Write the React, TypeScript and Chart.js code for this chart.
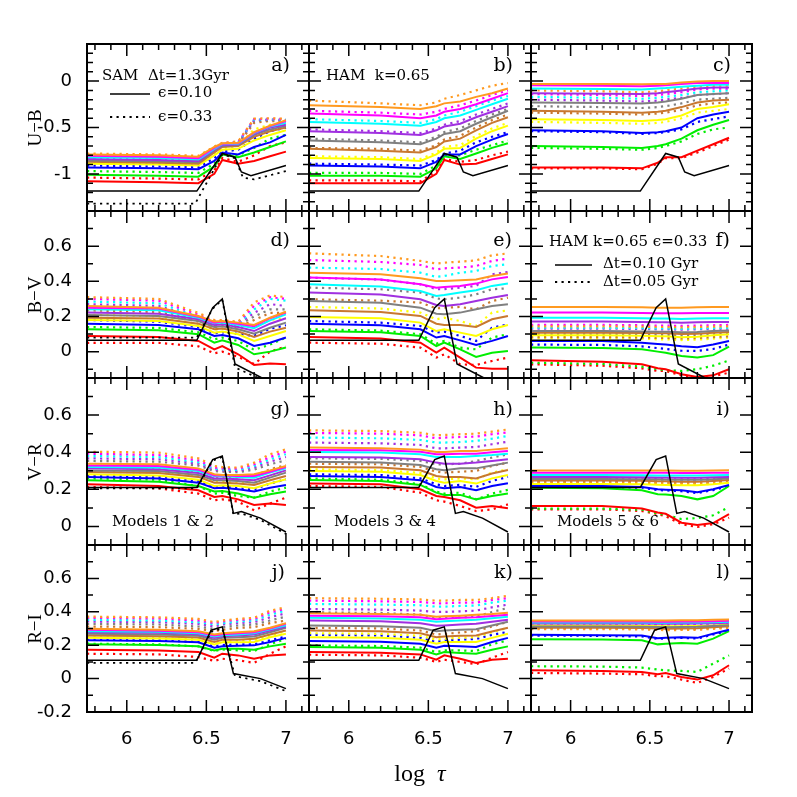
import React, { useEffect, useRef } from "react";
import { Chart, registerables } from "chart.js";

Chart.register(...registerables);

// ---------------- data ----------------
const XS = [5.75, 6.2, 6.45, 6.55, 6.6, 6.7, 6.8, 6.9, 7.0];
// colour order: red, green, blue, yellow, brown, gray, purple, cyan, magenta, orange
const COLORS = ["#ff0000", "#00ee00", "#0000ff", "#ffff00", "#c87830", "#808080", "#a030e0", "#00ffff", "#ff00ff", "#ff9a20"];

const X_TICKS = [6, 6.5, 7];
const UB_TICKS = [-1, -0.5, 0];
const BV_TICKS = [0, 0.2, 0.4, 0.6];
const VR_TICKS = [0, 0.2, 0.4, 0.6];
const RI_TICKS = [-0.2, 0, 0.2, 0.4, 0.6];

// black reference curves (one per row)
const BLACK_UB_X = [5.75, 6.44, 6.6, 6.68, 6.72, 6.78, 7.0];
const BLACK_UB = [-1.185, -1.185, -0.78, -0.82, -0.98, -1.02, -0.91];
const A_BLACK_DOT_X = [5.75, 6.43, 6.6, 6.68, 6.73, 6.8, 7.0];
const A_BLACK_DOT = [-1.32, -1.32, -0.79, -0.83, -1.04, -1.06, -0.97];

const BLACK_BV_X = [5.75, 6.44, 6.54, 6.6, 6.68, 6.85, 7.0];
const BLACK_BV = [0.065, 0.065, 0.25, 0.3, -0.07, -0.15, -0.19];
const D_BLACK_DOT = [0.08, 0.08, 0.245, 0.295, -0.09, -0.16, -0.2];

const BLACK_VR_X = [5.75, 6.44, 6.54, 6.6, 6.67, 6.72, 6.84, 7.0];
const BLACK_VR = [0.21, 0.21, 0.36, 0.38, 0.07, 0.08, 0.045, -0.03];
const G_BLACK_DOT = [0.205, 0.205, 0.355, 0.375, 0.065, 0.07, 0.035, -0.04];

const BLACK_RI_X = [5.75, 6.44, 6.53, 6.6, 6.67, 6.84, 7.0];
const BLACK_RI = [0.11, 0.11, 0.29, 0.31, 0.03, 0.0, -0.06];
const J_BLACK_DOT_X = [5.75, 6.43, 6.53, 6.6, 6.68, 6.84, 7.0];
const J_BLACK_DOT = [0.094, 0.094, 0.28, 0.3, 0.015, -0.015, -0.075];

// panel a  (U-B, SAM)
const A_SOLID = [
  [-1.08, -1.09, -1.1, -1.0, -0.85, -0.89, -0.86, -0.81, -0.76],
  [-1.01, -1.02, -1.03, -0.92, -0.79, -0.82, -0.77, -0.71, -0.65],
  [-0.93, -0.94, -0.95, -0.86, -0.77, -0.79, -0.71, -0.66, -0.58],
  [-0.89, -0.9, -0.91, -0.8, -0.74, -0.73, -0.64, -0.58, -0.53],
  [-0.87, -0.88, -0.89, -0.77, -0.71, -0.7, -0.6, -0.54, -0.5],
  [-0.855, -0.865, -0.875, -0.75, -0.7, -0.69, -0.58, -0.52, -0.485],
  [-0.84, -0.85, -0.86, -0.74, -0.69, -0.68, -0.57, -0.5, -0.47],
  [-0.82, -0.83, -0.845, -0.73, -0.68, -0.675, -0.56, -0.49, -0.45],
  [-0.805, -0.815, -0.83, -0.72, -0.675, -0.67, -0.555, -0.485, -0.43],
  [-0.79, -0.8, -0.815, -0.71, -0.67, -0.665, -0.55, -0.48, -0.42],
];
const A_DOTTED = [
  [-1.04, -1.05, -1.06, -0.96, -0.83, -0.87, -0.8, -0.7, -0.66],
  [-0.97, -0.98, -0.99, -0.89, -0.78, -0.8, -0.72, -0.62, -0.58],
  [-0.91, -0.92, -0.93, -0.83, -0.76, -0.74, -0.62, -0.54, -0.5],
  [-0.88, -0.89, -0.9, -0.78, -0.72, -0.7, -0.52, -0.47, -0.46],
  [-0.86, -0.87, -0.88, -0.76, -0.7, -0.68, -0.45, -0.43, -0.44],
  [-0.845, -0.855, -0.865, -0.745, -0.69, -0.67, -0.43, -0.42, -0.43],
  [-0.83, -0.84, -0.85, -0.735, -0.68, -0.665, -0.42, -0.415, -0.42],
  [-0.81, -0.82, -0.835, -0.725, -0.675, -0.66, -0.415, -0.41, -0.415],
  [-0.795, -0.805, -0.82, -0.715, -0.67, -0.655, -0.41, -0.405, -0.41],
  [-0.78, -0.79, -0.805, -0.705, -0.665, -0.65, -0.405, -0.4, -0.405],
];
// panel b (U-B, HAM)
const B_SOLID = [
  [-1.1, -1.1, -1.1, -1.0, -0.85, -0.9, -0.89, -0.84, -0.79],
  [-1.02, -1.02, -1.03, -0.94, -0.81, -0.84, -0.78, -0.72, -0.67],
  [-0.91, -0.92, -0.94, -0.87, -0.79, -0.79, -0.7, -0.63, -0.57],
  [-0.83, -0.84, -0.86, -0.79, -0.73, -0.72, -0.62, -0.54, -0.48],
  [-0.73, -0.75, -0.77, -0.71, -0.65, -0.62, -0.53, -0.45, -0.39],
  [-0.64, -0.66, -0.68, -0.62, -0.57, -0.54, -0.46, -0.39, -0.32],
  [-0.54, -0.56, -0.58, -0.53, -0.49, -0.46, -0.39, -0.33, -0.27],
  [-0.44, -0.46, -0.48, -0.44, -0.4, -0.37, -0.31, -0.25, -0.19],
  [-0.35, -0.37, -0.4, -0.37, -0.33, -0.3, -0.25, -0.19, -0.13],
  [-0.26, -0.28, -0.3, -0.27, -0.24, -0.22, -0.17, -0.13, -0.08],
];
const B_DOTTED = [
  [-1.07, -1.07, -1.08, -0.97, -0.84, -0.87, -0.85, -0.8, -0.76],
  [-0.99, -0.99, -1.0, -0.91, -0.8, -0.8, -0.74, -0.69, -0.64],
  [-0.89, -0.9, -0.91, -0.85, -0.78, -0.75, -0.66, -0.6, -0.55],
  [-0.81, -0.82, -0.84, -0.77, -0.71, -0.69, -0.59, -0.51, -0.45],
  [-0.72, -0.73, -0.75, -0.69, -0.63, -0.59, -0.5, -0.42, -0.36],
  [-0.62, -0.64, -0.66, -0.6, -0.55, -0.51, -0.43, -0.36, -0.3],
  [-0.52, -0.54, -0.56, -0.51, -0.47, -0.43, -0.36, -0.3, -0.24],
  [-0.41, -0.43, -0.45, -0.41, -0.37, -0.33, -0.27, -0.21, -0.16],
  [-0.32, -0.34, -0.36, -0.33, -0.3, -0.26, -0.21, -0.15, -0.1],
  [-0.21, -0.24, -0.26, -0.23, -0.19, -0.15, -0.1, -0.05, -0.02],
];
// panel c (U-B)
const C_SOLID = [
  [-0.93, -0.93, -0.94, -0.88, -0.82, -0.82, -0.75, -0.68, -0.61],
  [-0.7, -0.71, -0.72, -0.7, -0.68, -0.62, -0.53, -0.47, -0.42],
  [-0.53, -0.54, -0.56, -0.55, -0.54, -0.5, -0.4, -0.36, -0.33],
  [-0.41, -0.42, -0.43, -0.42, -0.41, -0.37, -0.3, -0.28, -0.25],
  [-0.32, -0.33, -0.34, -0.33, -0.32, -0.28, -0.23, -0.21, -0.2],
  [-0.23, -0.235, -0.24, -0.23, -0.22, -0.19, -0.15, -0.14, -0.13],
  [-0.13, -0.135, -0.14, -0.13, -0.12, -0.1, -0.08, -0.07, -0.07],
  [-0.08, -0.085, -0.09, -0.08, -0.075, -0.06, -0.05, -0.04, -0.04],
  [-0.045, -0.05, -0.055, -0.05, -0.045, -0.03, -0.02, -0.02, -0.02],
  [-0.03, -0.03, -0.035, -0.03, -0.03, -0.015, -0.005, 0.0, 0.0],
];
const C_DOTTED = [
  [-0.94, -0.94, -0.95, -0.89, -0.83, -0.83, -0.77, -0.7, -0.63],
  [-0.72, -0.73, -0.74, -0.72, -0.7, -0.65, -0.57, -0.52, -0.5],
  [-0.54, -0.55, -0.57, -0.56, -0.55, -0.52, -0.44, -0.41, -0.38],
  [-0.44, -0.45, -0.46, -0.45, -0.44, -0.4, -0.34, -0.32, -0.3],
  [-0.34, -0.35, -0.36, -0.35, -0.34, -0.31, -0.26, -0.24, -0.23],
  [-0.27, -0.28, -0.29, -0.28, -0.27, -0.24, -0.2, -0.19, -0.18],
  [-0.2, -0.21, -0.22, -0.21, -0.2, -0.18, -0.15, -0.14, -0.13],
  [-0.17, -0.18, -0.19, -0.18, -0.17, -0.15, -0.12, -0.11, -0.1],
  [-0.14, -0.15, -0.16, -0.15, -0.14, -0.12, -0.09, -0.08, -0.08],
  [-0.1, -0.11, -0.12, -0.11, -0.1, -0.08, -0.06, -0.05, -0.05],
];
// panel d (B-V)
const D_SOLID = [
  [0.089, 0.083, 0.061, 0.013, 0.032, -0.015, -0.076, -0.068, -0.072],
  [0.127, 0.121, 0.099, 0.051, 0.064, 0.038, -0.015, 0.0, 0.023],
  [0.159, 0.152, 0.127, 0.089, 0.095, 0.076, 0.032, 0.051, 0.08],
  [0.18, 0.174, 0.146, 0.108, 0.114, 0.099, 0.061, 0.089, 0.117],
  [0.193, 0.188, 0.159, 0.127, 0.131, 0.114, 0.083, 0.114, 0.136],
  [0.208, 0.203, 0.174, 0.14, 0.144, 0.127, 0.102, 0.136, 0.165],
  [0.222, 0.216, 0.184, 0.152, 0.155, 0.14, 0.117, 0.159, 0.19],
  [0.241, 0.235, 0.193, 0.161, 0.165, 0.152, 0.133, 0.178, 0.212],
  [0.25, 0.245, 0.199, 0.165, 0.171, 0.159, 0.144, 0.19, 0.222],
  [0.26, 0.25, 0.203, 0.171, 0.174, 0.165, 0.152, 0.193, 0.227],
];
const D_DOTTED = [
  [0.05, 0.05, 0.03, -0.01, 0.0, -0.03, -0.07, 0.0, 0.03],
  [0.14, 0.135, 0.11, 0.07, 0.08, 0.06, 0.01, 0.04, 0.08],
  [0.18, 0.17, 0.14, 0.105, 0.11, 0.1, 0.09, 0.13, 0.15],
  [0.21, 0.2, 0.155, 0.125, 0.13, 0.125, 0.15, 0.18, 0.19],
  [0.235, 0.225, 0.17, 0.14, 0.145, 0.14, 0.18, 0.22, 0.22],
  [0.25, 0.24, 0.18, 0.15, 0.155, 0.15, 0.2, 0.24, 0.24],
  [0.27, 0.26, 0.19, 0.16, 0.165, 0.155, 0.22, 0.27, 0.26],
  [0.285, 0.275, 0.2, 0.17, 0.17, 0.16, 0.24, 0.3, 0.29],
  [0.3, 0.29, 0.21, 0.175, 0.175, 0.165, 0.26, 0.31, 0.3],
  [0.31, 0.3, 0.22, 0.18, 0.18, 0.17, 0.28, 0.32, 0.31],
];
// panel e (B-V)
const E_SOLID = [
  [0.083, 0.075, 0.051, -0.006, 0.023, -0.034, -0.091, -0.097, -0.097],
  [0.117, 0.11, 0.089, 0.032, 0.051, 0.013, -0.03, -0.006, 0.004],
  [0.159, 0.15, 0.127, 0.08, 0.089, 0.064, 0.038, 0.061, 0.089],
  [0.197, 0.19, 0.165, 0.117, 0.127, 0.108, 0.089, 0.127, 0.152],
  [0.235, 0.225, 0.203, 0.159, 0.152, 0.152, 0.14, 0.184, 0.203],
  [0.288, 0.278, 0.25, 0.216, 0.212, 0.222, 0.241, 0.26, 0.269],
  [0.336, 0.325, 0.298, 0.265, 0.26, 0.269, 0.288, 0.307, 0.322],
  [0.383, 0.37, 0.345, 0.317, 0.322, 0.336, 0.349, 0.374, 0.387],
  [0.421, 0.41, 0.383, 0.364, 0.368, 0.374, 0.387, 0.411, 0.425],
  [0.449, 0.44, 0.417, 0.402, 0.402, 0.406, 0.411, 0.43, 0.444],
];
const E_DOTTED = [
  [0.051, 0.045, 0.023, -0.034, -0.015, -0.072, -0.076, -0.053, -0.034],
  [0.127, 0.12, 0.099, 0.045, 0.061, 0.023, 0.013, 0.08, 0.099],
  [0.174, 0.165, 0.146, 0.108, 0.114, 0.089, 0.061, 0.136, 0.155],
  [0.254, 0.245, 0.222, 0.184, 0.193, 0.174, 0.146, 0.222, 0.235],
  [0.298, 0.29, 0.279, 0.246, 0.25, 0.254, 0.241, 0.288, 0.307],
  [0.364, 0.355, 0.336, 0.303, 0.298, 0.307, 0.326, 0.355, 0.36],
  [0.421, 0.41, 0.383, 0.355, 0.355, 0.364, 0.374, 0.44, 0.453],
  [0.478, 0.47, 0.449, 0.425, 0.43, 0.449, 0.459, 0.487, 0.497],
  [0.521, 0.51, 0.493, 0.468, 0.474, 0.478, 0.487, 0.516, 0.529],
  [0.559, 0.544, 0.516, 0.501, 0.506, 0.512, 0.519, 0.548, 0.559],
];
// panel f (B-V)
const F_SOLID = [
  [-0.049, -0.058, -0.072, -0.095, -0.1, -0.129, -0.144, -0.135, -0.1],
  [0.023, 0.02, 0.013, 0.0, -0.006, -0.025, -0.034, -0.02, 0.028],
  [0.061, 0.06, 0.051, 0.043, 0.04, 0.03, 0.025, 0.04, 0.06],
  [0.093, 0.093, 0.091, 0.087, 0.087, 0.082, 0.085, 0.093, 0.099],
  [0.108, 0.108, 0.106, 0.104, 0.104, 0.1, 0.102, 0.108, 0.112],
  [0.117, 0.117, 0.115, 0.113, 0.113, 0.11, 0.112, 0.117, 0.12],
  [0.171, 0.171, 0.169, 0.167, 0.167, 0.165, 0.167, 0.169, 0.169],
  [0.193, 0.193, 0.19, 0.188, 0.188, 0.186, 0.188, 0.19, 0.19],
  [0.222, 0.222, 0.22, 0.218, 0.218, 0.218, 0.22, 0.22, 0.22],
  [0.254, 0.254, 0.252, 0.25, 0.25, 0.25, 0.252, 0.254, 0.254],
];
const F_DOTTED = [
  [-0.072, -0.08, -0.095, -0.11, -0.11, -0.135, -0.15, -0.14, -0.12],
  [-0.063, -0.07, -0.085, -0.1, -0.105, -0.11, -0.1, -0.08, -0.05],
  [0.04, 0.038, 0.03, 0.02, 0.015, 0.005, 0.004, 0.015, 0.04],
  [0.076, 0.076, 0.074, 0.07, 0.07, 0.066, 0.068, 0.074, 0.08],
  [0.083, 0.083, 0.081, 0.078, 0.078, 0.075, 0.077, 0.083, 0.087],
  [0.099, 0.099, 0.097, 0.095, 0.095, 0.092, 0.094, 0.099, 0.103],
  [0.131, 0.131, 0.129, 0.127, 0.127, 0.125, 0.127, 0.129, 0.131],
  [0.136, 0.136, 0.134, 0.132, 0.132, 0.13, 0.132, 0.134, 0.136],
  [0.152, 0.152, 0.15, 0.148, 0.148, 0.146, 0.148, 0.15, 0.152],
  [0.144, 0.144, 0.142, 0.14, 0.14, 0.138, 0.14, 0.142, 0.144],
];
// panel g (V-R)
const G_SOLID = [
  [0.227, 0.218, 0.195, 0.159, 0.164, 0.146, 0.116, 0.123, 0.116],
  [0.249, 0.241, 0.218, 0.188, 0.191, 0.177, 0.155, 0.173, 0.188],
  [0.267, 0.259, 0.236, 0.206, 0.209, 0.2, 0.188, 0.209, 0.223],
  [0.281, 0.274, 0.252, 0.218, 0.222, 0.218, 0.206, 0.231, 0.254],
  [0.293, 0.288, 0.267, 0.236, 0.236, 0.231, 0.223, 0.249, 0.272],
  [0.302, 0.299, 0.277, 0.249, 0.249, 0.245, 0.236, 0.263, 0.29],
  [0.313, 0.308, 0.288, 0.259, 0.259, 0.254, 0.249, 0.275, 0.302],
  [0.32, 0.317, 0.299, 0.27, 0.27, 0.267, 0.263, 0.29, 0.313],
  [0.329, 0.326, 0.306, 0.275, 0.274, 0.272, 0.272, 0.295, 0.32],
  [0.338, 0.335, 0.313, 0.281, 0.277, 0.277, 0.281, 0.302, 0.326],
];
const G_DOTTED = [
  [0.213, 0.205, 0.177, 0.141, 0.146, 0.134, 0.087, 0.123, 0.155],
  [0.259, 0.252, 0.218, 0.177, 0.182, 0.164, 0.155, 0.188, 0.209],
  [0.272, 0.267, 0.245, 0.213, 0.218, 0.205, 0.2, 0.231, 0.254],
  [0.295, 0.29, 0.272, 0.241, 0.241, 0.236, 0.236, 0.272, 0.299],
  [0.317, 0.313, 0.295, 0.267, 0.267, 0.263, 0.272, 0.308, 0.331],
  [0.353, 0.349, 0.328, 0.299, 0.295, 0.292, 0.306, 0.335, 0.356],
  [0.367, 0.362, 0.338, 0.306, 0.302, 0.299, 0.317, 0.349, 0.374],
  [0.38, 0.374, 0.347, 0.311, 0.308, 0.304, 0.326, 0.362, 0.389],
  [0.392, 0.385, 0.356, 0.317, 0.313, 0.311, 0.335, 0.374, 0.403],
  [0.403, 0.398, 0.367, 0.326, 0.32, 0.317, 0.344, 0.389, 0.416],
];
// panel h (V-R)
const H_SOLID = [
  [0.231, 0.227, 0.2, 0.164, 0.159, 0.141, 0.101, 0.11, 0.098],
  [0.25, 0.245, 0.224, 0.182, 0.17, 0.17, 0.146, 0.164, 0.177],
  [0.272, 0.267, 0.249, 0.213, 0.206, 0.213, 0.195, 0.218, 0.233],
  [0.299, 0.295, 0.277, 0.245, 0.236, 0.245, 0.231, 0.259, 0.277],
  [0.321, 0.317, 0.303, 0.272, 0.267, 0.267, 0.259, 0.285, 0.304],
  [0.349, 0.344, 0.331, 0.308, 0.303, 0.313, 0.313, 0.329, 0.344],
  [0.374, 0.371, 0.362, 0.344, 0.338, 0.338, 0.344, 0.353, 0.362],
  [0.401, 0.398, 0.389, 0.374, 0.374, 0.374, 0.38, 0.385, 0.392],
  [0.412, 0.41, 0.403, 0.389, 0.389, 0.392, 0.392, 0.4, 0.407],
  [0.425, 0.421, 0.414, 0.401, 0.401, 0.407, 0.407, 0.414, 0.421],
];
const H_DOTTED = [
  [0.218, 0.213, 0.182, 0.141, 0.134, 0.11, 0.083, 0.092, 0.119],
  [0.259, 0.252, 0.227, 0.188, 0.177, 0.182, 0.146, 0.177, 0.197],
  [0.281, 0.277, 0.259, 0.227, 0.218, 0.224, 0.213, 0.245, 0.267],
  [0.308, 0.304, 0.288, 0.259, 0.254, 0.259, 0.254, 0.29, 0.308],
  [0.338, 0.335, 0.321, 0.295, 0.29, 0.295, 0.299, 0.326, 0.344],
  [0.367, 0.364, 0.353, 0.335, 0.335, 0.338, 0.353, 0.371, 0.389],
  [0.452, 0.448, 0.439, 0.421, 0.421, 0.425, 0.428, 0.443, 0.457],
  [0.479, 0.475, 0.466, 0.452, 0.452, 0.455, 0.461, 0.473, 0.488],
  [0.504, 0.5, 0.491, 0.475, 0.479, 0.482, 0.484, 0.497, 0.507],
  [0.518, 0.514, 0.505, 0.491, 0.493, 0.497, 0.5, 0.511, 0.523],
];
// panel i (V-R)
const I_SOLID = [
  [0.11, 0.11, 0.097, 0.075, 0.068, 0.02, 0.008, 0.018, 0.066],
  [0.209, 0.206, 0.195, 0.173, 0.172, 0.164, 0.146, 0.164, 0.218],
  [0.218, 0.218, 0.213, 0.2, 0.198, 0.195, 0.184, 0.2, 0.223],
  [0.229, 0.229, 0.228, 0.225, 0.224, 0.222, 0.222, 0.228, 0.236],
  [0.247, 0.247, 0.246, 0.244, 0.243, 0.241, 0.241, 0.245, 0.25],
  [0.256, 0.256, 0.255, 0.254, 0.253, 0.252, 0.252, 0.255, 0.258],
  [0.266, 0.266, 0.265, 0.264, 0.264, 0.263, 0.263, 0.265, 0.266],
  [0.277, 0.277, 0.276, 0.275, 0.275, 0.274, 0.274, 0.276, 0.277],
  [0.29, 0.29, 0.29, 0.289, 0.289, 0.288, 0.288, 0.289, 0.29],
  [0.302, 0.302, 0.302, 0.302, 0.301, 0.3, 0.3, 0.302, 0.303],
];
const I_DOTTED = [
  [0.092, 0.092, 0.083, 0.066, 0.055, 0.012, -0.003, 0.012, 0.047],
  [0.096, 0.096, 0.09, 0.07, 0.062, 0.04, 0.045, 0.06, 0.105],
  [0.213, 0.213, 0.209, 0.196, 0.194, 0.19, 0.18, 0.196, 0.218],
  [0.232, 0.232, 0.231, 0.228, 0.227, 0.225, 0.225, 0.23, 0.238],
  [0.24, 0.24, 0.239, 0.237, 0.236, 0.234, 0.234, 0.238, 0.244],
  [0.245, 0.245, 0.244, 0.242, 0.241, 0.24, 0.24, 0.243, 0.248],
  [0.25, 0.25, 0.249, 0.247, 0.246, 0.245, 0.245, 0.248, 0.252],
  [0.254, 0.254, 0.253, 0.251, 0.25, 0.249, 0.249, 0.252, 0.256],
  [0.259, 0.259, 0.258, 0.256, 0.255, 0.254, 0.254, 0.257, 0.261],
  [0.236, 0.236, 0.235, 0.233, 0.232, 0.231, 0.231, 0.234, 0.238],
];
// panel j (R-I)
const J_SOLID = [
  [0.173, 0.169, 0.159, 0.125, 0.149, 0.139, 0.119, 0.139, 0.145],
  [0.205, 0.201, 0.193, 0.169, 0.179, 0.179, 0.173, 0.193, 0.209],
  [0.229, 0.225, 0.217, 0.185, 0.193, 0.197, 0.199, 0.219, 0.244],
  [0.244, 0.24, 0.233, 0.205, 0.217, 0.217, 0.219, 0.248, 0.268],
  [0.258, 0.254, 0.246, 0.219, 0.233, 0.233, 0.239, 0.264, 0.288],
  [0.268, 0.264, 0.256, 0.233, 0.244, 0.248, 0.252, 0.278, 0.304],
  [0.278, 0.274, 0.266, 0.244, 0.254, 0.258, 0.264, 0.288, 0.312],
  [0.284, 0.28, 0.272, 0.252, 0.26, 0.264, 0.272, 0.296, 0.32],
  [0.292, 0.286, 0.278, 0.258, 0.266, 0.272, 0.278, 0.3, 0.328],
  [0.298, 0.292, 0.284, 0.264, 0.272, 0.278, 0.284, 0.304, 0.332],
];
const J_DOTTED = [
  [0.149, 0.145, 0.129, 0.106, 0.119, 0.11, 0.094, 0.149, 0.193],
  [0.209, 0.205, 0.193, 0.165, 0.175, 0.169, 0.165, 0.205, 0.239],
  [0.233, 0.229, 0.219, 0.193, 0.201, 0.205, 0.205, 0.229, 0.252],
  [0.248, 0.244, 0.235, 0.213, 0.225, 0.229, 0.229, 0.258, 0.284],
  [0.312, 0.308, 0.298, 0.284, 0.292, 0.304, 0.308, 0.332, 0.348],
  [0.328, 0.324, 0.312, 0.298, 0.308, 0.318, 0.324, 0.348, 0.371],
  [0.342, 0.338, 0.328, 0.312, 0.324, 0.332, 0.338, 0.367, 0.391],
  [0.352, 0.348, 0.338, 0.324, 0.332, 0.342, 0.348, 0.383, 0.407],
  [0.364, 0.36, 0.348, 0.332, 0.342, 0.352, 0.356, 0.397, 0.417],
  [0.371, 0.367, 0.358, 0.338, 0.348, 0.358, 0.364, 0.407, 0.427],
];
// panel k (R-I)
const K_SOLID = [
  [0.159, 0.155, 0.145, 0.113, 0.139, 0.119, 0.094, 0.113, 0.119],
  [0.189, 0.185, 0.173, 0.145, 0.159, 0.153, 0.149, 0.173, 0.193],
  [0.225, 0.221, 0.209, 0.185, 0.197, 0.193, 0.189, 0.219, 0.244],
  [0.248, 0.244, 0.233, 0.209, 0.219, 0.219, 0.219, 0.244, 0.268],
  [0.288, 0.284, 0.272, 0.248, 0.252, 0.256, 0.258, 0.282, 0.304],
  [0.318, 0.314, 0.304, 0.284, 0.288, 0.292, 0.296, 0.318, 0.34],
  [0.348, 0.344, 0.332, 0.316, 0.318, 0.324, 0.328, 0.34, 0.352],
  [0.364, 0.36, 0.352, 0.34, 0.344, 0.348, 0.352, 0.362, 0.371],
  [0.377, 0.373, 0.367, 0.356, 0.358, 0.364, 0.367, 0.375, 0.383],
  [0.391, 0.387, 0.383, 0.371, 0.373, 0.377, 0.383, 0.387, 0.395],
];
const K_DOTTED = [
  [0.143, 0.139, 0.125, 0.1, 0.113, 0.1, 0.086, 0.125, 0.159],
  [0.199, 0.195, 0.185, 0.159, 0.169, 0.169, 0.165, 0.205, 0.229],
  [0.262, 0.258, 0.244, 0.219, 0.229, 0.233, 0.237, 0.262, 0.28],
  [0.272, 0.268, 0.256, 0.233, 0.239, 0.244, 0.248, 0.278, 0.304],
  [0.304, 0.3, 0.288, 0.264, 0.268, 0.276, 0.284, 0.312, 0.34],
  [0.397, 0.393, 0.383, 0.364, 0.364, 0.367, 0.371, 0.399, 0.423],
  [0.417, 0.413, 0.407, 0.399, 0.399, 0.403, 0.407, 0.427, 0.443],
  [0.447, 0.443, 0.439, 0.431, 0.431, 0.435, 0.437, 0.455, 0.467],
  [0.467, 0.463, 0.459, 0.451, 0.451, 0.455, 0.455, 0.471, 0.482],
  [0.482, 0.478, 0.474, 0.467, 0.467, 0.471, 0.471, 0.482, 0.496],
];
// panel l (R-I)
const L_SOLID = [
  [0.05, 0.046, 0.04, 0.026, 0.034, 0.01, -0.006, 0.02, 0.08],
  [0.236, 0.234, 0.229, 0.205, 0.209, 0.213, 0.209, 0.239, 0.284],
  [0.262, 0.26, 0.258, 0.242, 0.244, 0.248, 0.244, 0.268, 0.292],
  [0.318, 0.318, 0.317, 0.314, 0.313, 0.314, 0.315, 0.318, 0.322],
  [0.304, 0.304, 0.303, 0.3, 0.299, 0.3, 0.302, 0.307, 0.313],
  [0.312, 0.312, 0.311, 0.309, 0.308, 0.309, 0.31, 0.315, 0.32],
  [0.33, 0.33, 0.33, 0.328, 0.328, 0.329, 0.33, 0.332, 0.334],
  [0.336, 0.336, 0.336, 0.335, 0.335, 0.336, 0.336, 0.338, 0.34],
  [0.342, 0.342, 0.342, 0.341, 0.341, 0.342, 0.342, 0.344, 0.346],
  [0.348, 0.348, 0.348, 0.348, 0.348, 0.35, 0.35, 0.352, 0.354],
];
const L_DOTTED = [
  [0.034, 0.03, 0.026, 0.014, 0.014, -0.006, -0.026, 0.01, 0.06],
  [0.074, 0.072, 0.066, 0.054, 0.05, 0.046, 0.04, 0.09, 0.139],
  [0.258, 0.256, 0.252, 0.238, 0.24, 0.244, 0.24, 0.264, 0.288],
  [0.304, 0.304, 0.303, 0.3, 0.299, 0.3, 0.301, 0.305, 0.31],
  [0.3, 0.3, 0.299, 0.296, 0.295, 0.296, 0.297, 0.302, 0.308],
  [0.308, 0.308, 0.307, 0.305, 0.304, 0.305, 0.306, 0.31, 0.315],
  [0.32, 0.32, 0.319, 0.317, 0.317, 0.318, 0.318, 0.321, 0.324],
  [0.324, 0.324, 0.323, 0.321, 0.321, 0.322, 0.322, 0.325, 0.328],
  [0.328, 0.328, 0.327, 0.325, 0.325, 0.326, 0.326, 0.329, 0.332],
  [0.296, 0.296, 0.295, 0.292, 0.29, 0.291, 0.292, 0.298, 0.304],
];

// ---------------- layout ----------------
const SIZE = 797;
const COL_LEFT = [87, 309, 531];
const COL_RIGHT = [309, 531, 752];
const ROW_TOP = [44, 211, 378, 545];
const ROW_BOTTOM = [211, 378, 545, 712];
const Y_AXIS_W = 80;
const X_AXIS_H = 40;
const X_MIN = 5.75;
const X_MAX = 7.145;
const X_MINOR = 0.1;
const X_MAJOR = 0.5;
const MAJOR_LEN = 12;
const MINOR_LEN = 6;

const ROWS = [
  { title: "U\u2212B", min: -1.4, max: 0.4, ticks: UB_TICKS, minor: 0.1, major: 0.5, letterDy: 22 },
  { title: "B\u2212V", min: -0.15, max: 0.8, ticks: BV_TICKS, minor: 0.1, major: 0.2, letterDy: 30 },
  { title: "V\u2212R", min: -0.1, max: 0.8, ticks: VR_TICKS, minor: 0.1, major: 0.2, letterDy: 32 },
  { title: "R\u2212I", min: -0.2, max: 0.8, ticks: RI_TICKS, minor: 0.1, major: 0.2, letterDy: 28 },
];

const NOTE_FONT = '15px "DejaVu Serif"';
const LETTER_FONT = '19px "DejaVu Serif"';
const TICK_FONT = { family: "DejaVu Sans", size: 18 };

const PANELS: any[] = [
  { id: "a)", row: 0, col: 0, letterDx: 19, solid: A_SOLID, dotted: A_DOTTED, bx: BLACK_UB_X, by: BLACK_UB, bdx: A_BLACK_DOT_X, bdy: A_BLACK_DOT,
    notes: [
      { t: "SAM  \u0394t=1.3Gyr", dx: 15, dy: 32 },
      { t: "\u03F5=0.10", dx: 71, dy: 49 },
      { t: "\u03F5=0.33", dx: 71, dy: 73 },
    ],
    keys: [{ x1: 23, x2: 63, dy: 50, dotted: false }, { x1: 23, x2: 63, dy: 73, dotted: true }] },
  { id: "b)", row: 0, col: 1, letterDx: 18, solid: B_SOLID, dotted: B_DOTTED, bx: BLACK_UB_X, by: BLACK_UB,
    notes: [{ t: "HAM  k=0.65", dx: 17, dy: 32 }] },
  { id: "c)", row: 0, col: 2, letterDx: 21, solid: C_SOLID, dotted: C_DOTTED, bx: BLACK_UB_X, by: BLACK_UB },
  { id: "d)", row: 1, col: 0, letterDx: 19, solid: D_SOLID, dotted: D_DOTTED, bx: BLACK_BV_X, by: BLACK_BV, bdx: BLACK_BV_X, bdy: D_BLACK_DOT },
  { id: "e)", row: 1, col: 1, letterDx: 19, solid: E_SOLID, dotted: E_DOTTED, bx: BLACK_BV_X, by: BLACK_BV },
  { id: "f)", row: 1, col: 2, letterDx: 22, solid: F_SOLID, dotted: F_DOTTED, bx: BLACK_BV_X, by: BLACK_BV,
    notes: [
      { t: "HAM k=0.65 \u03F5=0.33", dx: 18, dy: 31 },
      { t: "\u0394t=0.10 Gyr", dx: 72, dy: 53 },
      { t: "\u0394t=0.05 Gyr", dx: 72, dy: 71 },
    ],
    keys: [{ x1: 24, x2: 61, dy: 54, dotted: false }, { x1: 24, x2: 61, dy: 71, dotted: true }] },
  { id: "g)", row: 2, col: 0, letterDx: 19, solid: G_SOLID, dotted: G_DOTTED, bx: BLACK_VR_X, by: BLACK_VR, bdx: BLACK_VR_X, bdy: G_BLACK_DOT,
    notes: [{ t: "Models 1 & 2", dx: 25, dy: 144 }] },
  { id: "h)", row: 2, col: 1, letterDx: 18, solid: H_SOLID, dotted: H_DOTTED, bx: BLACK_VR_X, by: BLACK_VR,
    notes: [{ t: "Models 3 & 4", dx: 25, dy: 144 }] },
  { id: "i)", row: 2, col: 2, letterDx: 22, solid: I_SOLID, dotted: I_DOTTED, bx: BLACK_VR_X, by: BLACK_VR,
    notes: [{ t: "Models 5 & 6", dx: 26, dy: 144 }] },
  { id: "j)", row: 3, col: 0, letterDx: 24, solid: J_SOLID, dotted: J_DOTTED, bx: BLACK_RI_X, by: BLACK_RI, bdx: J_BLACK_DOT_X, bdy: J_BLACK_DOT },
  { id: "k)", row: 3, col: 1, letterDx: 18, solid: K_SOLID, dotted: K_DOTTED, bx: BLACK_RI_X, by: BLACK_RI },
  { id: "l)", row: 3, col: 2, letterDx: 22, solid: L_SOLID, dotted: L_DOTTED, bx: BLACK_RI_X, by: BLACK_RI },
];

const DOT_DASH = [2.2, 4.3];

const panelPlugin = {
  id: "panelDecor",
  afterDatasetsDraw(chart: any, _args: any, opts: any) {
    const { ctx, chartArea: a, scales } = chart;
    const xs = scales.x;
    const ys = scales.y;
    const eps = 1e-6;
    ctx.save();
    ctx.strokeStyle = "#000";
    ctx.lineWidth = 1.5;
    ctx.setLineDash([]);
    ctx.beginPath();
    for (let i = Math.ceil(xs.min / X_MINOR - eps); i * X_MINOR <= xs.max + eps; i++) {
      const v = i * X_MINOR;
      const r = v / X_MAJOR;
      const len = Math.abs(r - Math.round(r)) < 1e-6 ? MAJOR_LEN : MINOR_LEN;
      const p = xs.getPixelForValue(v);
      ctx.moveTo(p, a.bottom);
      ctx.lineTo(p, a.bottom - len);
      ctx.moveTo(p, a.top);
      ctx.lineTo(p, a.top + len);
    }
    for (let i = Math.ceil(ys.min / opts.minor - eps); i * opts.minor <= ys.max + eps; i++) {
      const v = i * opts.minor;
      const r = v / opts.major;
      const len = Math.abs(r - Math.round(r)) < 1e-6 ? MAJOR_LEN : MINOR_LEN;
      const p = ys.getPixelForValue(v);
      ctx.moveTo(a.left, p);
      ctx.lineTo(a.left + len, p);
      ctx.moveTo(a.right, p);
      ctx.lineTo(a.right - len, p);
    }
    ctx.stroke();
    ctx.lineWidth = 2;
    ctx.strokeRect(a.left, a.top, a.right - a.left, a.bottom - a.top);

    ctx.fillStyle = "#000";
    ctx.textBaseline = "middle";
    ctx.font = LETTER_FONT;
    ctx.textAlign = "right";
    ctx.fillText(opts.letter, a.right - opts.letterDx, a.top + opts.letterDy);
    ctx.font = NOTE_FONT;
    ctx.textAlign = "left";
    for (const n of opts.notes || []) ctx.fillText(n.t, a.left + n.dx, a.top + n.dy);
    for (const k of opts.keys || []) {
      ctx.setLineDash(k.dotted ? DOT_DASH : []);
      ctx.lineWidth = k.dotted ? 2 : 1.5;
      ctx.beginPath();
      ctx.moveTo(a.left + k.x1, a.top + k.dy);
      ctx.lineTo(a.left + k.x2, a.top + k.dy);
      ctx.stroke();
    }
    ctx.restore();
  },
};

function line(xv: number[], yv: number[], color: string, width: number, dotted: boolean) {
  return {
    data: xv.map((x, i) => ({ x, y: yv[i] })),
    borderColor: color,
    backgroundColor: color,
    borderWidth: width,
    borderDash: dotted ? DOT_DASH : [],
    pointRadius: 0,
    pointHoverRadius: 0,
    tension: 0,
    fill: false,
    clip: 0,
  };
}

function buildDatasets(p: any) {
  const ds: any[] = [];
  ds.push(line(p.bx, p.by, "#000", 1.5, false));
  if (p.bdx) ds.push(line(p.bdx, p.bdy, "#000", 1.8, true));
  for (let c = p.solid.length - 1; c >= 0; c--) ds.push(line(XS, p.solid[c], COLORS[c], 2, false));
  for (let c = p.dotted.length - 1; c >= 0; c--) ds.push(line(XS, p.dotted[c], COLORS[c], 2.2, true));
  return ds;
}

function makeConfig(p: any): any {
  const row = ROWS[p.row];
  const left = COL_LEFT[p.col];
  const right = COL_RIGHT[p.col];
  const top = ROW_TOP[p.row];
  const bottom = ROW_BOTTOM[p.row];
  const showY = p.col === 0;
  const showX = p.row === 3;
  return {
    type: "line",
    data: { datasets: buildDatasets(p) },
    plugins: [panelPlugin],
    options: {
      responsive: false,
      maintainAspectRatio: false,
      animation: false,
      events: [],
      layout: {
        padding: {
          left: showY ? left - Y_AXIS_W : left,
          right: SIZE - right,
          top,
          bottom: showX ? SIZE - bottom - X_AXIS_H : SIZE - bottom,
        },
      },
      scales: {
        x: {
          type: "linear",
          min: X_MIN,
          max: X_MAX,
          display: showX,
          grid: { display: false },
          border: { display: false },
          ticks: { display: showX, padding: 9, font: TICK_FONT, color: "#000", maxRotation: 0, autoSkip: false, callback: (v: number) => String(v) },
          afterBuildTicks: (s: any) => { s.ticks = X_TICKS.map((v) => ({ value: v })); },
          afterFit: (s: any) => { s.height = showX ? X_AXIS_H : 0; },
        },
        y: {
          type: "linear",
          min: row.min,
          max: row.max,
          display: showY,
          grid: { display: false },
          border: { display: false },
          ticks: { display: showY, padding: 7, font: TICK_FONT, color: "#000", autoSkip: false, callback: (v: number) => String(v) },
          afterBuildTicks: (s: any) => { s.ticks = row.ticks.map((v) => ({ value: v })); },
          afterFit: (s: any) => { s.width = showY ? Y_AXIS_W : 0; },
        },
      },
      plugins: {
        legend: { display: false },
        tooltip: { enabled: false },
        panelDecor: {
          minor: row.minor,
          major: row.major,
          letter: p.id,
          letterDx: p.letterDx,
          letterDy: row.letterDy,
          notes: p.notes || [],
          keys: p.keys || [],
        },
      },
    },
  };
}

export default function App() {
  const refs = useRef<(HTMLCanvasElement | null)[]>([]);
  useEffect(() => {
    const charts = PANELS.map((p, i) => new Chart(refs.current[i] as HTMLCanvasElement, makeConfig(p)));
    return () => charts.forEach((c) => c.destroy());
  }, []);
  return (
    <div style={{ position: "fixed", left: 0, top: 0, width: SIZE, height: SIZE, background: "#fff", overflow: "hidden" }}>
      {PANELS.map((p, i) => (
        <canvas
          key={p.id}
          ref={(el) => { refs.current[i] = el; }}
          width={SIZE}
          height={SIZE}
          style={{ position: "absolute", left: 0, top: 0, width: SIZE, height: SIZE }}
        />
      ))}
      {ROWS.map((r, i) => (
        <div
          key={r.title}
          style={{
            position: "absolute",
            left: 35,
            top: (ROW_TOP[i] + ROW_BOTTOM[i]) / 2,
            transform: "translate(-50%, -50%) rotate(-90deg)",
            font: '19px "Liberation Serif"',
            whiteSpace: "nowrap",
            color: "#000",
          }}
        >
          {r.title}
        </div>
      ))}
      <div
        style={{
          position: "absolute",
          left: 420,
          top: 773,
          transform: "translate(-50%, -50%)",
          font: '24px "Liberation Serif"',
          whiteSpace: "nowrap",
          color: "#000",
        }}
      >
        log<span style={{ marginLeft: 12, fontStyle: "italic" }}>{"\u03C4"}</span>
      </div>
    </div>
  );
}
